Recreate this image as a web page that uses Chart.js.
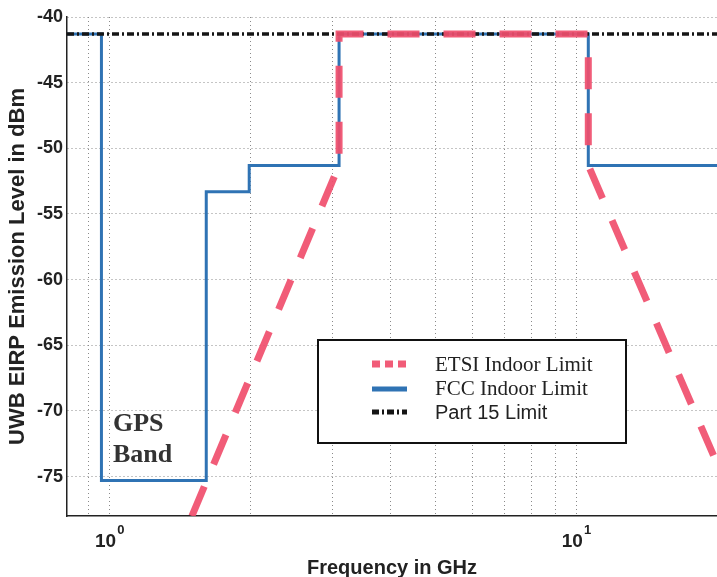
<!DOCTYPE html>
<html>
<head>
<meta charset="utf-8">
<script src="https://cdn.jsdelivr.net/npm/chart.js@4"></script>
<style>
  html, body { margin: 0; padding: 0; background: #fff; }
  #box { width: 717px; height: 577px; }
</style>
</head>
<body>
<div id="box"><canvas id="myChart" width="717" height="577"></canvas></div>
<script>
// values (GHz / dBm)
const fccFreq = [0.81, 0.96, 0.96, 1.61, 1.61, 1.99, 1.99, 3.1, 3.1, 10.6, 10.6, 20];
const fccLevel = [-41.3, -41.3, -75.3, -75.3, -53.3, -53.3, -51.3, -51.3, -41.3, -41.3, -51.3, -51.3];
const etsiFreq = [1.5, 3.1, 3.1, 10.6, 10.6, 20];
const etsiLevel = [-78, -51.3, -41.3, -41.3, -51.3, -74];
const part15Freq = [0.81, 20];
const part15Level = [-41.3, -41.3];

const seriesNames = ["ETSI Indoor Limit", "FCC Indoor Limit", "Part 15 Limit"];
const xGridTicks = [0.9, 1, 2, 3, 4, 5, 6, 7, 8, 9, 10, 20];
const xLabelValues = [1, 10];
const yTicks = [-75, -70, -65, -60, -55, -50, -45, -40];

function toPoints(xs, ys) {
  return xs.map((x, i) => ({ x: x, y: ys[i] }));
}

const pink = "rgba(240, 78, 108, 0.92)";
const blue = "#2f73b4";
const black = "#151515";

// legend box + "GPS Band" note, drawn on top
const extras = {
  id: "extras",
  afterDatasetsDraw(chart) {
    const ctx = chart.ctx;
    const xs = chart.scales.x;
    ctx.save();

    // GPS Band
    ctx.fillStyle = "#333";
    ctx.font = "bold 26px 'Liberation Serif'";
    ctx.textAlign = "left";
    ctx.textBaseline = "alphabetic";
    ctx.fillText("GPS", 113, 431);
    ctx.fillText("Band", 113, 462);

    // legend
    ctx.fillStyle = "#fff";
    ctx.fillRect(318, 340, 308, 103);
    ctx.strokeStyle = "#111";
    ctx.lineWidth = 2;
    ctx.strokeRect(318, 340, 308, 103);

    const rows = [
      { y: 364, color: pink, width: 7, dash: [8, 5], font: "21px 'Liberation Serif'", base: 371 },
      { y: 389, color: blue, width: 5, dash: [], font: "21px 'Liberation Serif'", base: 395 },
      { y: 412, color: black, width: 5, dash: [7, 3, 2, 3], font: "20px 'Liberation Sans'", base: 419 }
    ];
    rows.forEach((r, i) => {
      ctx.beginPath();
      ctx.strokeStyle = r.color;
      ctx.lineWidth = r.width;
      ctx.setLineDash(r.dash);
      ctx.moveTo(372, r.y);
      ctx.lineTo(407, r.y);
      ctx.stroke();
      ctx.setLineDash([]);
      ctx.fillStyle = "#222";
      ctx.font = r.font;
      ctx.fillText(seriesNames[i], 435, r.base);
    });

    // x tick labels 10^0, 10^1
    ctx.fillStyle = "#222";
    xLabelValues.forEach((v) => {
      const px = xs.getPixelForValue(v);
      const exp = String(Math.round(Math.log10(v)));
      ctx.font = "bold 19px 'Liberation Sans'";
      const w1 = ctx.measureText("10").width;
      ctx.font = "bold 13px 'Liberation Sans'";
      const w2 = ctx.measureText(exp).width;
      const left = px - (w1 + w2 + 1) / 2;
      ctx.font = "bold 19px 'Liberation Sans'";
      ctx.fillText("10", left, 547);
      ctx.font = "bold 13px 'Liberation Sans'";
      ctx.fillText(exp, left + w1 + 1, 534);
    });

    ctx.restore();
  }
};

new Chart(document.getElementById("myChart"), {
  type: "line",
  data: {
    datasets: [
      {
        label: seriesNames[0],
        data: toPoints(etsiFreq, etsiLevel),
        borderColor: pink,
        borderWidth: 7,
        borderDash: [32, 24],
        pointRadius: 0,
        order: 0
      },
      {
        label: seriesNames[2],
        data: toPoints(part15Freq, part15Level),
        borderColor: black,
        borderWidth: 3.5,
        borderDash: [7, 3, 2, 3],
        pointRadius: 0,
        order: 1
      },
      {
        label: seriesNames[1],
        data: toPoints(fccFreq, fccLevel),
        borderColor: blue,
        borderWidth: 3,
        pointRadius: 0,
        order: 2
      }
    ]
  },
  options: {
    responsive: false,
    animation: false,
    devicePixelRatio: 1,
    layout: { padding: { top: 17, right: 0, left: 0, bottom: 0 } },
    plugins: {
      legend: { display: false },
      tooltip: { enabled: false }
    },
    scales: {
      x: {
        type: "logarithmic",
        min: 0.81,
        max: 20,
        afterBuildTicks: (scale) => {
          scale.ticks = xGridTicks.map((v) => ({ value: v }));
        },
        afterFit: (scale) => {
          scale.height = 61;
        },
        ticks: { display: false },
        grid: { color: "#8a8a8a", lineWidth: 1, drawTicks: false },
        border: { display: true, color: "#222", width: 1.5, dash: [1, 3] },
        title: {
          display: true,
          text: "Frequency in GHz",
          color: "#222",
          font: { family: "Liberation Sans", size: 20, weight: "bold" },
          padding: { top: 0, bottom: -3 }
        }
      },
      y: {
        min: -78,
        max: -40,
        afterBuildTicks: (scale) => {
          scale.ticks = yTicks.map((v) => ({ value: v }));
        },
        afterFit: (scale) => {
          scale.width = 67;
        },
        ticks: {
          color: "#222",
          padding: 4,
          font: { family: "Liberation Sans", size: 18, weight: "bold" }
        },
        grid: { color: "#8a8a8a", lineWidth: 1, drawTicks: false },
        border: { display: true, color: "#222", width: 1.5, dash: [1, 3] },
        title: {
          display: true,
          text: "UWB EIRP Emission Level in dBm",
          color: "#222",
          font: { family: "Liberation Sans", size: 22, weight: "bold" },
          padding: { top: 5, bottom: 0 }
        }
      }
    }
  },
  plugins: [extras]
});
</script>
</body>
</html>
